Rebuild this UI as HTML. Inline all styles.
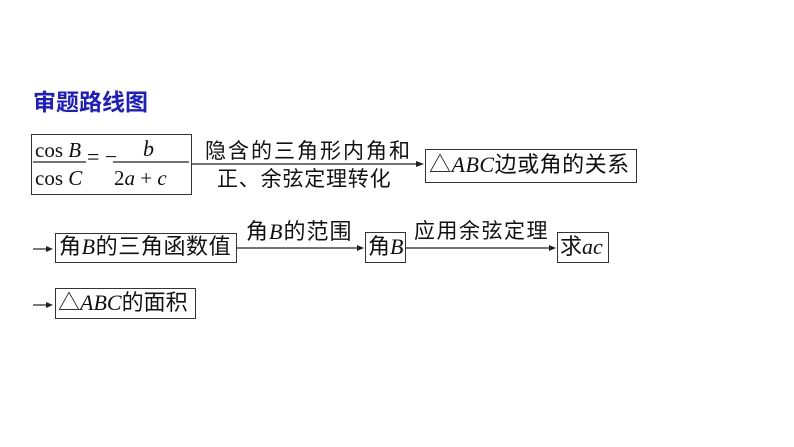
<!DOCTYPE html>
<html><head><meta charset="utf-8"><style>
body{margin:0;width:794px;height:447px;background:#fff;position:relative;overflow:hidden;font-family:"Liberation Serif","Noto Sans CJK SC",serif;color:#111}
.a{position:absolute;white-space:nowrap;line-height:1}
.cj{font-family:"Liberation Sans","Noto Sans CJK SC",sans-serif}
.box{position:absolute;border:1px solid #333;box-sizing:border-box}
i{font-family:"Liberation Serif",serif;font-style:italic}
svg{position:absolute;left:0;top:0}
</style></head><body>
<div class="a cj" style="left:33px;top:91px;font-size:23px;font-weight:bold;color:#1c1cc8">审题路线图</div>

<div class="box" style="left:31px;top:134px;width:161px;height:61px"></div>
<div class="a" style="left:35px;top:140px;font-size:21px">cos <i>B</i></div>
<div class="a" style="left:35px;top:168px;font-size:21px">cos <i>C</i></div>
<div class="a" style="left:87px;top:146px;font-size:22px">= −</div>
<div class="a" style="left:143px;top:138px;font-size:22px"><i>b</i></div>
<div class="a" style="left:114px;top:168px;font-size:21px">2<i>a</i> + <i>c</i></div>

<div class="a cj" style="left:205px;top:141px;font-size:21px;letter-spacing:2px">隐含的三角形内角和</div>
<div class="a cj" style="left:217px;top:169px;font-size:21px;letter-spacing:0.8px">正、余弦定理转化</div>

<div class="box" style="left:425px;top:149px;width:212px;height:34px"></div>
<div class="a cj" style="left:429px;top:154px;font-size:22px;letter-spacing:0.5px">△<i>ABC</i>边或角的关系</div>

<div class="box" style="left:55px;top:233px;width:182px;height:30px"></div>
<div class="a cj" style="left:59px;top:236px;font-size:22px;letter-spacing:0.6px">角<i>B</i>的三角函数值</div>
<div class="a cj" style="left:246px;top:221px;font-size:22px;letter-spacing:1px">角<i>B</i>的范围</div>
<div class="box" style="left:365px;top:232px;width:41px;height:31px"></div>
<div class="a cj" style="left:368px;top:236px;font-size:22px">角<i>B</i></div>
<div class="a cj" style="left:414px;top:221px;font-size:21px;letter-spacing:1.5px">应用余弦定理</div>
<div class="box" style="left:557px;top:232px;width:52px;height:31px"></div>
<div class="a cj" style="left:560px;top:236px;font-size:22px">求<i>ac</i></div>

<div class="box" style="left:55px;top:288px;width:141px;height:31px"></div>
<div class="a cj" style="left:58px;top:292px;font-size:22px">△<i>ABC</i>的面积</div>

<svg width="794" height="447">
<g stroke="#222" stroke-width="1.2" fill="none">
<line x1="33" y1="162" x2="86" y2="162"/>
<line x1="113" y1="162" x2="189" y2="162"/>
<line x1="192" y1="164" x2="420" y2="164"/>
<line x1="33" y1="249" x2="49" y2="249"/>
<line x1="237" y1="248" x2="360" y2="248"/>
<line x1="406" y1="248" x2="552" y2="248"/>
<line x1="33" y1="305" x2="49" y2="305"/>
</g>
<g fill="#222">
<polygon points="424,164 416,161 416,167"/>
<polygon points="53,249 46,246 46,252"/>
<polygon points="364,248 357,245 357,251"/>
<polygon points="556,248 549,245 549,251"/>
<polygon points="53,305 46,302 46,308"/>
</g>
</svg>
</body></html>
